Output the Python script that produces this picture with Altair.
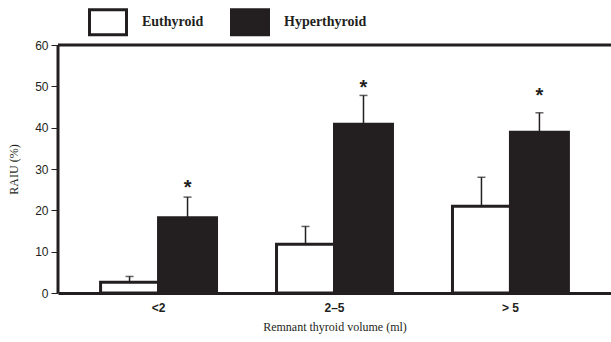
import altair as alt
import pandas as pd

groups = ["<2", "2–5", "> 5"]
series = ["Euthyroid", "Hyperthyroid"]
euthyroid_mean = [2.6, 11.8, 21.0]
euthyroid_err = [1.4, 4.3, 7.0]
hyper_mean = [18.2, 40.8, 38.9]
hyper_err = [5.0, 7.0, 4.7]
star_y = [26.4, 50.6, 48.6]
y_max = 60

rows = []
for i, g in enumerate(groups):
    rows.append(dict(group=g, series="Euthyroid", mean=euthyroid_mean[i],
                     upper=euthyroid_mean[i] + euthyroid_err[i], star=None))
    rows.append(dict(group=g, series="Hyperthyroid", mean=hyper_mean[i],
                     upper=hyper_mean[i] + hyper_err[i], star=star_y[i]))
df = pd.DataFrame(rows)
frame = pd.DataFrame({"top": [y_max]})

INK = "#231f20"

x = alt.X("group:N", sort=groups,
          scale=alt.Scale(paddingInner=0.341, paddingOuter=0.242),
          axis=alt.Axis(title="Remnant thyroid volume (ml)", labelAngle=0, ticks=False,
                        labelFont="Liberation Sans", labelFontWeight="bold", labelFontSize=12,
                        labelPadding=9, titleFont="Liberation Serif", titleFontWeight="normal",
                        titleFontSize=12, titlePadding=8, labelColor=INK, titleColor=INK))
xo = alt.XOffset("series:N", sort=series, scale=alt.Scale(paddingInner=0, paddingOuter=0))
yscale = alt.Scale(domain=[0, y_max], nice=False)

bars = alt.Chart(df).mark_bar(stroke=INK, strokeWidth=3).encode(
    x=x, xOffset=xo,
    y=alt.Y("mean:Q", scale=yscale,
            axis=alt.Axis(title="RAIU (%)", values=[0, 10, 20, 30, 40, 50, 60], grid=False,
                          orient="left", domain=False,
                          tickSize=7, tickColor=INK, labelPadding=3,
                          labelFont="Liberation Sans", labelFontSize=12, labelColor=INK,
                          titleFont="Liberation Serif", titleFontWeight="normal",
                          titleFontSize=12, titleColor=INK, titlePadding=14)),
    fill=alt.Fill("series:N", sort=series,
                  scale=alt.Scale(domain=series, range=["white", INK]),
                  legend=alt.Legend(title=None, orient="none", legendX=30, legendY=-43,
                                    direction="horizontal", padding=0,
                                    symbolType="M-1,-0.676H1V0.676H-1Z", symbolSize=1369,
                                    symbolStrokeColor=INK, symbolStrokeWidth=3,
                                    labelFont="Liberation Serif", labelFontWeight="bold",
                                    labelFontSize=14, labelColor=INK, labelOffset=14,
                                    columnPadding=21)),
)

err = alt.Chart(df).mark_rule(color=INK, strokeWidth=1.5).encode(
    x=x, xOffset=xo, y="mean:Q", y2="upper:Q")
cap = alt.Chart(df).mark_tick(color=INK, thickness=1.5, size=8, orient="horizontal").encode(
    x=x, xOffset=xo, y="upper:Q")
stars = alt.Chart(df).transform_filter("datum.star != null").mark_text(
    text="*", font="Liberation Sans", fontWeight="bold", fontSize=20, color=INK,
    baseline="middle", dy=4).encode(x=x, xOffset=xo, y="star:Q")
top = alt.Chart(frame).mark_rule(color=INK, strokeWidth=3).encode(y="top:Q")
left = alt.Chart(frame).mark_rule(color=INK, strokeWidth=3).encode(x=alt.value(0))

chart = alt.layer(bars, err, cap, stars, top, left).properties(
    width=553, height=248,
    padding={"left": 58, "top": 45, "right": 0, "bottom": 49},
    autosize="none",
    background="white",
).configure_view(stroke="transparent", strokeWidth=0).configure_axisX(
    domainColor=INK, domainWidth=3
)

chart.save("out.html", embed_options={"renderer": "svg", "actions": False})
